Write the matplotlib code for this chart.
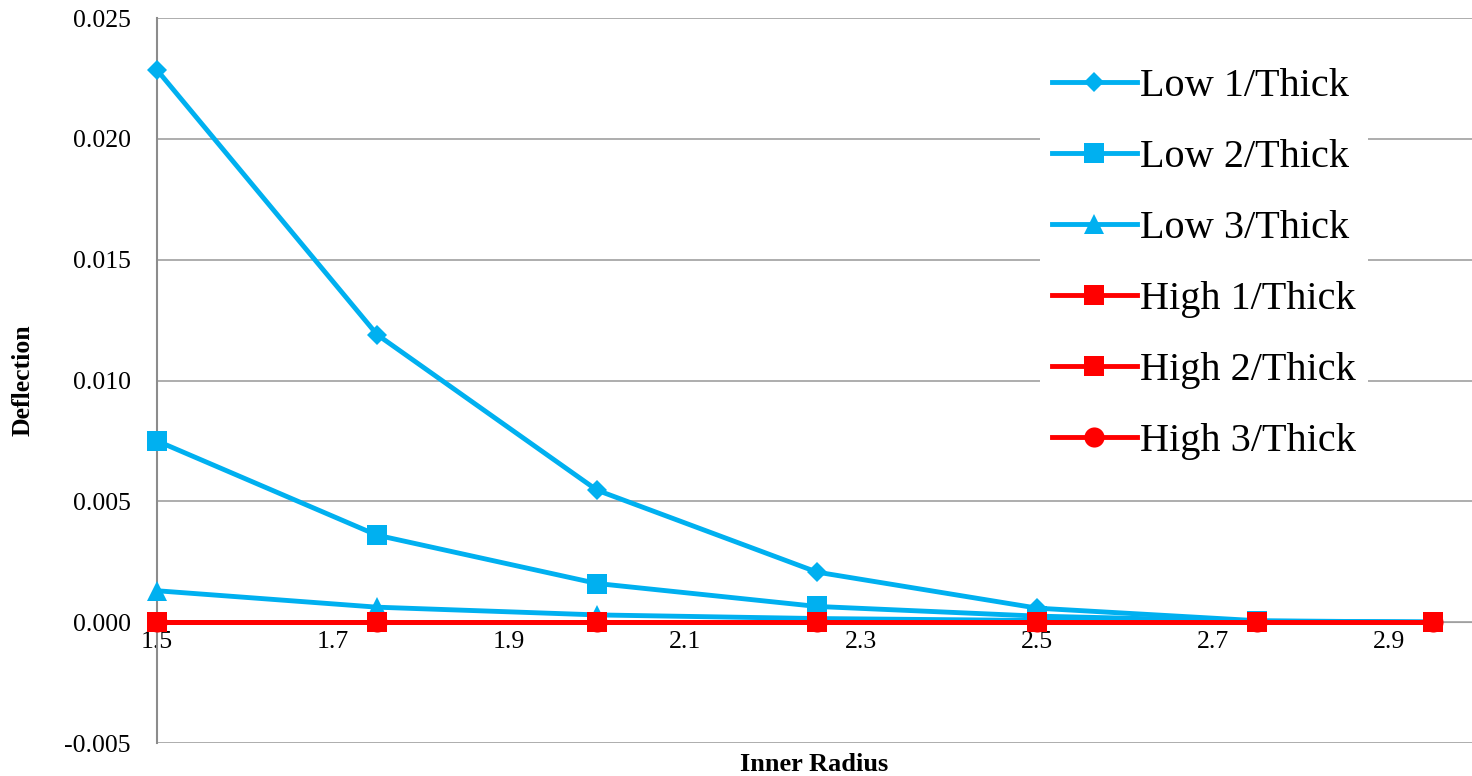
import numpy as np
import matplotlib
matplotlib.use("Agg")
import matplotlib.pyplot as plt

# Inner radius sample points
radius = [1.5, 1.75, 2.0, 2.25, 2.5, 2.75, 2.95]

# Deflection per load case / thickness
low_1 = [0.02285, 0.0119, 0.00546, 0.00207, 0.00058, 0.00006, 0.0]
low_2 = [0.0075, 0.0036, 0.0016, 0.00065, 0.00025, 0.00004, 0.0]
low_3 = [0.0013, 0.00062, 0.0003, 0.00015, 0.00007, 0.00002, 0.0]
high_1 = [0.0, 0.0, 0.0, 0.0, 0.0, 0.0, 0.0]
high_2 = [0.0, 0.0, 0.0, 0.0, 0.0, 0.0, 0.0]
high_3 = [0.0, 0.0, 0.0, 0.0, 0.0, 0.0, 0.0]

labels = ["Low 1/Thick", "Low 2/Thick", "Low 3/Thick",
          "High 1/Thick", "High 2/Thick", "High 3/Thick"]

blue = "#00B0F0"
red = "#FF0000"
grid_gray = "#A0A0A0"

plt.rcParams["font.family"] = ["Liberation Serif", "DejaVu Serif"]

fig = plt.figure(figsize=(14.72, 7.76), dpi=100)
ax = fig.add_axes([157 / 1472, 1 - 743 / 776, 1 - 157 / 1472, (743 - 18) / 776])

series = [
    (low_1, blue, "D", 10.5),
    (low_2, blue, "s", 15),
    (low_3, blue, "^", 14.5),
    (high_1, red, "s", 15),
    (high_2, red, "s", 15),
    (high_3, red, "o", 14.5),
]
for (vals, col, mk, ms), lab in zip(series, labels):
    ax.plot(radius, vals, color=col, lw=3.5, marker=mk, markersize=ms,
            markeredgewidth=0, label=lab, clip_on=False, zorder=3)

ax.set_xlim(1.5, 2.994)
ax.set_ylim(-0.005, 0.025)
ax.set_xticks(np.arange(1.5, 2.95, 0.2))
ax.set_yticks(np.arange(-0.005, 0.0251, 0.005))
ax.xaxis.set_major_formatter(plt.FormatStrFormatter("%.1f"))
ax.yaxis.set_major_formatter(plt.FormatStrFormatter("%.3f"))

ax.grid(axis="y", color=grid_gray, lw=1.2)
ax.set_axisbelow(True)
for side in ["top", "right"]:
    ax.spines[side].set_visible(False)
ax.spines["bottom"].set_position(("data", 0))
ax.spines["bottom"].set_color(grid_gray)
ax.spines["left"].set_color("#8C8C8C")
ax.spines["left"].set_linewidth(1.5)
ax.tick_params(axis="both", length=0, labelsize=18.5)
ax.tick_params(axis="y", pad=19)
ax.tick_params(axis="x", pad=6)

ax.set_ylabel("Deflection", fontsize=18.5, fontweight="bold")
ax.yaxis.set_label_coords(-0.093, 0.5)
ax.set_xlabel("Inner Radius", fontsize=19, fontweight="bold")
ax.xaxis.set_label_coords(0.5, -0.014)

leg = fig.legend(loc="upper left", bbox_to_anchor=(1040 / 1472, 1 - 56 / 776),
                 fontsize=29, frameon=True, fancybox=False, edgecolor="none",
                 facecolor="white", framealpha=1, handlelength=2.1,
                 handletextpad=0.08, labelspacing=0.84, borderpad=0.3,
                 borderaxespad=0)

fig.savefig("out.png", dpi=100)
